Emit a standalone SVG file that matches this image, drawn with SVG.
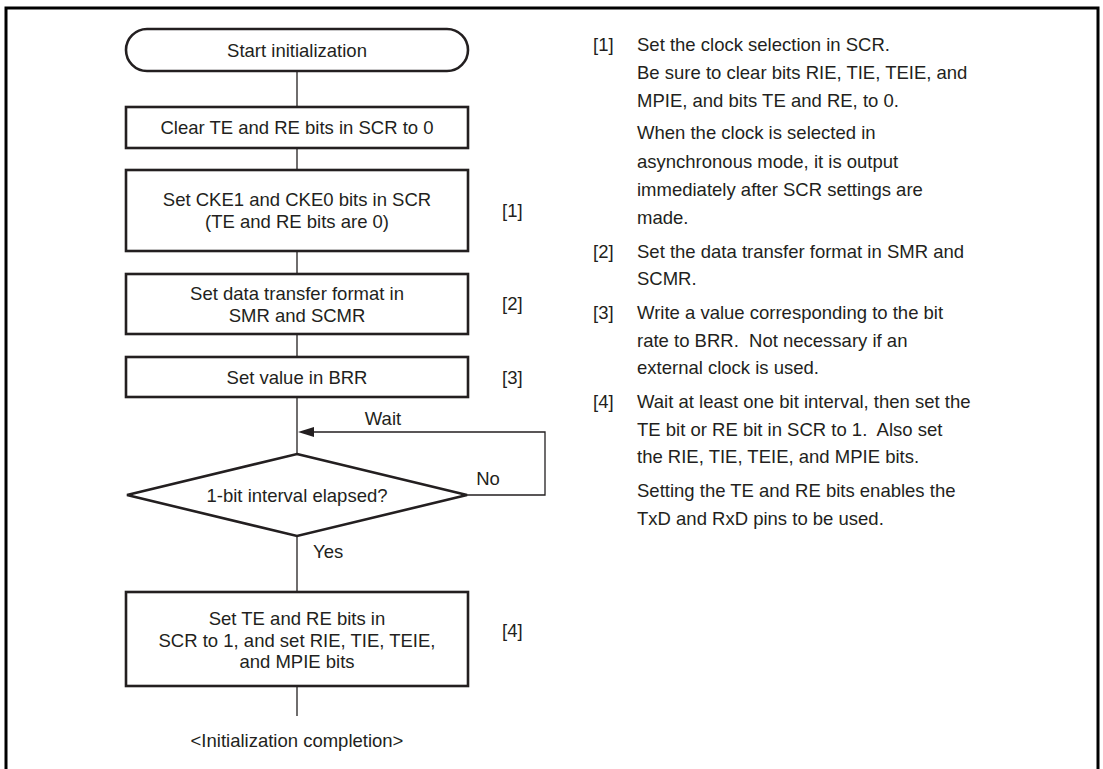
<svg xmlns="http://www.w3.org/2000/svg" width="1103" height="769" viewBox="0 0 1103 769">
<defs>
<style>
text{font-family:"Liberation Sans",Arial,sans-serif;font-size:18.5px;fill:#231f20}
.c{text-anchor:middle}
.box{fill:#fff;stroke:#231f20;stroke-width:2.6}
.ln{fill:none;stroke:#231f20;stroke-width:1.3}
</style>
</defs>
<rect width="1103" height="769" fill="#fff"/>
<path d="M6,769 V8 H1098 V769" fill="none" stroke="#000" stroke-width="3"/>

<g id="connectors">
<line class="ln" x1="297" y1="71" x2="297" y2="107"/>
<line class="ln" x1="297" y1="148" x2="297" y2="170"/>
<line class="ln" x1="297" y1="251" x2="297" y2="274"/>
<line class="ln" x1="297" y1="334" x2="297" y2="357"/>
<line class="ln" x1="297" y1="397" x2="297" y2="454"/>
<path class="ln" d="M467,495 H545 V432 H314"/>
<path d="M298,432 L314,427 L314,437 Z" fill="#231f20"/>
<line class="ln" x1="297" y1="536" x2="297" y2="592"/>
<line class="ln" x1="297" y1="686" x2="297" y2="716"/>
<text x="383" y="425" class="c">Wait</text>
<text x="488" y="485" class="c">No</text>
<text x="313" y="558">Yes</text>
</g>

<g id="start">
<rect class="box" x="126" y="29" width="342" height="42" rx="21" ry="21"/>
<text x="297" y="56.5" class="c">Start initialization</text>
</g>

<g id="clear">
<rect class="box" x="126" y="107" width="342" height="41"/>
<text x="297" y="134" class="c">Clear TE and RE bits in SCR to 0</text>
</g>

<g id="setcke">
<rect class="box" x="126" y="170" width="342" height="81"/>
<text x="297" y="205.5" class="c">Set CKE1 and CKE0 bits in SCR</text>
<text x="297" y="227.5" class="c">(TE and RE bits are 0)</text>
<text x="502" y="217">[1]</text>
</g>

<g id="format">
<rect class="box" x="126" y="274" width="342" height="60"/>
<text x="297" y="299.5" class="c">Set data transfer format in</text>
<text x="297" y="321.5" class="c">SMR and SCMR</text>
<text x="502" y="310">[2]</text>
</g>

<g id="brr">
<rect class="box" x="126" y="357" width="342" height="40"/>
<text x="297" y="383.5" class="c">Set value in BRR</text>
<text x="502" y="383.5">[3]</text>
</g>

<g id="decision">
<polygon class="box" points="297,454 467,495 297,536 127,495"/>
<text x="297" y="501.5" class="c">1-bit interval elapsed?</text>
</g>

<g id="setbits">
<rect class="box" x="126" y="592" width="342" height="94"/>
<text x="297" y="624.5" class="c">Set TE and RE bits in</text>
<text x="297" y="646.5" class="c">SCR to 1, and set RIE, TIE, TEIE,</text>
<text x="297" y="667.5" class="c">and MPIE bits</text>
<text x="502" y="637">[4]</text>
</g>

<g id="end">
<text x="297" y="747" class="c">&lt;Initialization completion&gt;</text>
</g>

<g id="notes">
<text x="593" y="51">[1]</text>
<text x="637" y="51">Set the clock selection in SCR.</text>
<text x="637" y="79">Be sure to clear bits RIE, TIE, TEIE, and</text>
<text x="637" y="107">MPIE, and bits TE and RE, to 0.</text>
<text x="637" y="139">When the clock is selected in</text>
<text x="637" y="168">asynchronous mode, it is output</text>
<text x="637" y="196">immediately after SCR settings are</text>
<text x="637" y="224">made.</text>
<text x="593" y="258">[2]</text>
<text x="637" y="258">Set the data transfer format in SMR and</text>
<text x="637" y="285">SCMR.</text>
<text x="593" y="319">[3]</text>
<text x="637" y="319">Write a value corresponding to the bit</text>
<text x="637" y="347" xml:space="preserve">rate to BRR.  Not necessary if an</text>
<text x="637" y="374">external clock is used.</text>
<text x="593" y="408">[4]</text>
<text x="637" y="408">Wait at least one bit interval, then set the</text>
<text x="637" y="436" xml:space="preserve">TE bit or RE bit in SCR to 1.  Also set</text>
<text x="637" y="463">the RIE, TIE, TEIE, and MPIE bits.</text>
<text x="637" y="497">Setting the TE and RE bits enables the</text>
<text x="637" y="525">TxD and RxD pins to be used.</text>
</g>
</svg>
